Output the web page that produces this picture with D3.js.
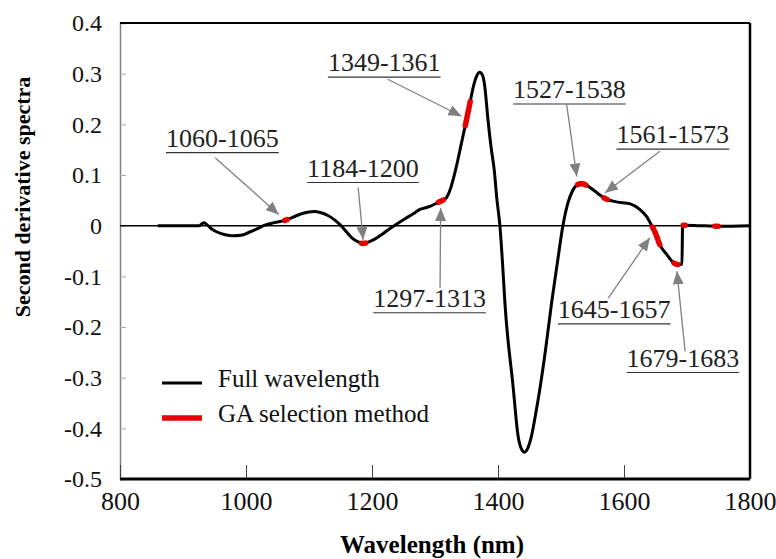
<!DOCTYPE html>
<html>
<head>
<meta charset="utf-8">
<script src="https://cdn.jsdelivr.net/npm/d3@7"></script>
<style>
  body { margin: 0; background: #fff; }
  text { font-family: "Liberation Serif", "Times New Roman", serif; }
</style>
</head>
<body>
<svg id="chart" width="776" height="559"></svg>
<script>
// spectrum (wavelength in nm, second derivative value)
var wavelength = [860, 900, 926, 930, 933, 937, 945, 955, 967, 980, 992, 1005, 1018, 1030, 1045,
  1063, 1075, 1087, 1100, 1108, 1118, 1130, 1140, 1150, 1160, 1170, 1178, 1186, 1195, 1205,
  1215, 1228, 1240, 1253, 1266, 1276, 1292, 1305, 1312, 1318, 1324, 1334, 1342, 1349, 1354,
  1361, 1366, 1371, 1375, 1379, 1384, 1389, 1394, 1398, 1403, 1407, 1411, 1424, 1432, 1437,
  1442, 1447, 1453, 1460, 1467, 1476, 1485, 1494, 1503, 1511, 1518, 1525, 1533, 1540, 1551,
  1560, 1571, 1588, 1610, 1625, 1636, 1644, 1650, 1657, 1668, 1676, 1681, 1688, 1692, 1693,
  1697, 1720, 1750, 1800];
var spectrum = [0, 0, 0, 0.004, 0.006, 0.003, -0.006, -0.013, -0.018, -0.02, -0.019, -0.013, -0.006, 0.001, 0.006,
  0.011, 0.017, 0.023, 0.027, 0.028, 0.026, 0.02, 0.012, 0.001, -0.013, -0.026, -0.032, -0.035, -0.032, -0.026,
  -0.018, -0.006, 0.004, 0.014, 0.024, 0.032, 0.038, 0.046, 0.05, 0.055, 0.071, 0.117, 0.163, 0.203, 0.233,
  0.275, 0.295, 0.303, 0.298, 0.275, 0.21, 0.155, 0.11, 0.055, 0, -0.07, -0.153, -0.318, -0.416, -0.44,
  -0.447, -0.44, -0.416, -0.37, -0.318, -0.24, -0.153, -0.075, 0, 0.045, 0.068, 0.08, 0.083, 0.08, 0.071,
  0.062, 0.053, 0.047, 0.043, 0.032, 0.018, 0, -0.015, -0.038, -0.057, -0.07, -0.075, -0.077, -0.076, 0.001,
  0.001, 0, -0.001, 0];

// wavelength stretches drawn in red (GA selection)
var gaStart = [1061, 1183, 1305, 1348, 1526, 1568, 1645, 1679, 1694, 1744];
var gaEnd   = [1066, 1190, 1314, 1356, 1540, 1574, 1657, 1686, 1698, 1750];

var calloutText = ["1060-1065", "1184-1200", "1349-1361", "1297-1313",
  "1527-1538", "1561-1573", "1645-1657", "1679-1683"];

var xTicks = [800, 1000, 1200, 1400, 1600, 1800];
var yTicks = [-0.5, -0.4, -0.3, -0.2, -0.1, 0, 0.1, 0.2, 0.3, 0.4];
var legendLabels = ["Full wavelength", "GA selection method"];

// callout placement in data units: text corner, arrow tail, arrow tip
var calloutPos = [
  {tx: 873, ty: 0.156, ax: 951, ay: 0.134, bx: 1052, by: 0.022},
  {tx: 1097, ty: 0.097, ax: 1178, ay: 0.075, bx: 1186, by: -0.028},
  {tx: 1130, ty: 0.305, ax: 1225, ay: 0.289, bx: 1342, by: 0.216},
  {tx: 1202, ty: -0.160, ax: 1308, ay: -0.123, bx: 1309, by: 0.035},
  {tx: 1424, ty: 0.252, ax: 1509, ay: 0.239, bx: 1525, by: 0.097},
  {tx: 1588, ty: 0.163, ax: 1657, ay: 0.147, bx: 1570, by: 0.065},
  {tx: 1495, ty: -0.182, ax: 1575, ay: -0.143, bx: 1641, by: -0.024},
  {tx: 1604, ty: -0.278, ax: 1697, ay: -0.248, bx: 1684, by: -0.090}
];

var svg = d3.select("#chart");
var plotL = 120, plotR = 750, plotT = 23, plotB = 479;

var x = d3.scaleLinear().domain([800, 1800]).range([plotL, plotR]);
var y = d3.scaleLinear().domain([-0.5, 0.4]).range([plotB, plotT]);

var defs = svg.append("defs");
defs.append("marker")
    .attr("id", "head")
    .attr("markerUnits", "userSpaceOnUse")
    .attr("markerWidth", 13).attr("markerHeight", 11)
    .attr("refX", 13).attr("refY", 5.5)
    .attr("orient", "auto")
  .append("path")
    .attr("d", "M0,0L13,5.5L0,11Z")
    .attr("fill", "#808080");

// y axis (gray, ticks pointing inward)
var yAxis = svg.append("g")
    .attr("transform", "translate(" + plotL + ",0)")
    .call(d3.axisLeft(y).tickValues(yTicks).tickSize(-6).tickPadding(18)
      .tickFormat(function(d) { return d === 0 ? "0" : String(+d.toFixed(1)); }));
yAxis.select(".domain").attr("stroke", "#808080").attr("stroke-width", 1.5);
yAxis.selectAll(".tick line").attr("stroke", "#aaa");
yAxis.selectAll("text").attr("font-size", 24).attr("fill", "#111")
    .attr("dy", "0.32em");

var xAxis = svg.append("g")
    .attr("transform", "translate(0," + plotB + ")")
    .call(d3.axisBottom(x).tickValues(xTicks).tickSize(-14).tickPadding(13)
      .tickFormat(d3.format("d")));
xAxis.select(".domain").remove();
xAxis.selectAll(".tick line").attr("stroke", "#444").attr("stroke-width", 1);
xAxis.selectAll("text").attr("font-size", 26).attr("fill", "#111");

// frame
svg.append("line").attr("x1", plotL).attr("x2", plotR).attr("y1", plotT).attr("y2", plotT)
    .attr("stroke", "#000").attr("stroke-width", 2);
svg.append("line").attr("x1", plotR).attr("x2", plotR).attr("y1", plotT).attr("y2", plotB)
    .attr("stroke", "#000").attr("stroke-width", 2.5);
svg.append("line").attr("x1", plotL).attr("x2", plotR).attr("y1", plotB).attr("y2", plotB)
    .attr("stroke", "#000").attr("stroke-width", 3);
svg.append("line").attr("x1", plotL).attr("x2", plotR).attr("y1", y(0)).attr("y2", y(0))
    .attr("stroke", "#000").attr("stroke-width", 1.5);

// axis titles
svg.append("text")
    .attr("x", 432).attr("y", 553)
    .attr("text-anchor", "middle")
    .attr("font-size", 25).attr("font-weight", "bold")
    .text("Wavelength (nm)");
svg.append("text")
    .attr("transform", "translate(30,197) rotate(-90)")
    .attr("text-anchor", "middle")
    .attr("font-size", 22).attr("font-weight", "bold")
    .text("Second derivative spectra");

// spectrum
var pts = wavelength.map(function(w, i) { return [w, spectrum[i]]; });
var line = d3.line()
    .x(function(d) { return x(d[0]); })
    .y(function(d) { return y(d[1]); })
    .curve(d3.curveMonotoneX);

var curve = svg.append("path")
    .datum(pts)
    .attr("d", line)
    .attr("fill", "none")
    .attr("stroke", "#000")
    .attr("stroke-width", 3)
    .attr("stroke-linejoin", "round");

// red segments follow the drawn curve
var node = curve.node();
var total = node.getTotalLength();
var samples = [];
for (var s = 0; s <= total; s += 0.5) {
  var p = node.getPointAtLength(s);
  samples.push([p.x, p.y]);
}
gaStart.forEach(function(a, i) {
  var x0 = x(a), x1 = x(gaEnd[i]);
  var seg = samples.filter(function(p) { return p[0] >= x0 && p[0] <= x1; });
  if (seg.length < 2) return;
  svg.append("path")
      .attr("d", d3.line()(seg))
      .attr("fill", "none")
      .attr("stroke", "#e60000")
      .attr("stroke-width", 5.5)
      .attr("stroke-linecap", "round");
});

// callouts
calloutText.forEach(function(t, i) {
  var c = calloutPos[i];
  svg.append("line")
      .attr("x1", x(c.ax)).attr("y1", y(c.ay))
      .attr("x2", x(c.bx)).attr("y2", y(c.by))
      .attr("stroke", "#808080").attr("stroke-width", 1.3)
      .attr("marker-end", "url(#head)");
  var label = svg.append("text")
      .attr("x", x(c.tx)).attr("y", y(c.ty))
      .attr("font-size", 26).attr("fill", "#222")
      .text(t);
  var w = label.node().getComputedTextLength();
  svg.append("line")
      .attr("x1", x(c.tx)).attr("x2", x(c.tx) + w)
      .attr("y1", y(c.ty) + 6).attr("y2", y(c.ty) + 6)
      .attr("stroke", "#333").attr("stroke-width", 1.2);
});

// legend
var legendColors = ["#000", "#e60000"];
var legendWidths = [3, 5.5];
legendLabels.forEach(function(t, i) {
  var ly = 383 + i * 35;
  svg.append("line")
      .attr("x1", 162).attr("x2", 202).attr("y1", ly).attr("y2", ly)
      .attr("stroke", legendColors[i]).attr("stroke-width", legendWidths[i]);
  svg.append("text")
      .attr("x", 218).attr("y", ly + 4)
      .attr("font-size", 25).attr("fill", "#111")
      .text(t);
});
</script>
</body>
</html>
